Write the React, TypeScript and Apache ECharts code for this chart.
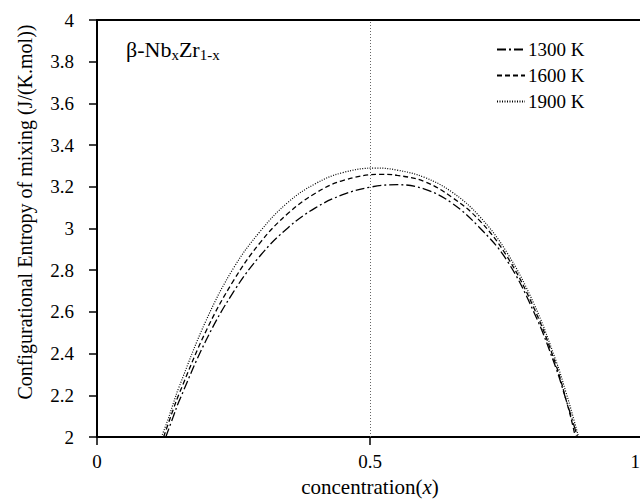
import React, { useEffect, useRef } from "react";
import * as echarts from "echarts";

const xTicks = [0, 0.5, 1];
const yMin = 2;
const yMax = 4;

const s1300x = [0.126, 0.14, 0.15, 0.2, 0.25, 0.3, 0.35, 0.4, 0.45, 0.5, 0.55, 0.6, 0.65, 0.7, 0.75, 0.8, 0.84, 0.86, 0.87, 0.88];
const s1300y = [2.0, 2.1, 2.17, 2.465, 2.696, 2.873, 3.004, 3.099, 3.162, 3.198, 3.21, 3.189, 3.122, 3.006, 2.85, 2.6, 2.335, 2.17, 2.086, 2.0];

const s1600x = [0.122, 0.13, 0.14, 0.15, 0.2, 0.25, 0.3, 0.35, 0.4, 0.45, 0.52, 0.55, 0.6, 0.65, 0.7, 0.75, 0.8, 0.84, 0.86, 0.87, 0.876];
const s1600y = [2.0, 2.06, 2.135, 2.205, 2.51, 2.75, 2.936, 3.073, 3.169, 3.23, 3.26, 3.255, 3.225, 3.15, 3.04, 2.87, 2.62, 2.35, 2.17, 2.07, 2.0];

const s1900x = [0.118, 0.13, 0.14, 0.15, 0.2, 0.25, 0.3, 0.35, 0.4, 0.45, 0.51, 0.55, 0.6, 0.65, 0.7, 0.75, 0.8, 0.84, 0.86, 0.87, 0.882];
const s1900y = [2.0, 2.084, 2.163, 2.238, 2.56, 2.81, 2.99, 3.126, 3.215, 3.268, 3.29, 3.28, 3.245, 3.175, 3.06, 2.888, 2.64, 2.37, 2.205, 2.115, 2.0];

const seriesNames = ["1300 K", "1600 K", "1900 K"];

const zip = (xs: number[], ys: number[]) => xs.map((x, i) => [x, ys[i]]);

const FONT = "Liberation Serif";

export default function App() {
  const ref = useRef<HTMLDivElement>(null);
  useEffect(() => {
    if (!ref.current) return;
    const chart = echarts.init(ref.current, null, { renderer: "svg" });
    const lineBase = { type: "line", showSymbol: false, symbol: "none", smooth: 0.4, silent: true };
    chart.setOption({
      animation: false,
      backgroundColor: "#fff",
      grid: {
        left: 97,
        top: 20,
        width: 546,
        height: 417,
        outerBoundsMode: "none",
        containLabel: false,
        show: true,
        borderColor: "#000",
        borderWidth: 1.8,
        backgroundColor: "transparent",
      },
      legend: {
        orient: "vertical",
        left: 491,
        top: 35,
        itemGap: 7,
        itemWidth: 28,
        itemHeight: 14,
        itemStyle: { opacity: 0, borderWidth: 0 },
        textStyle: { fontFamily: FONT, fontSize: 19, color: "#000", padding: [0, 0, 0, -2] },
        data: seriesNames,
      },
      xAxis: {
        type: "value",
        min: 0,
        max: 1,
        interval: 0.5,
        axisLine: { lineStyle: { color: "#000", width: 2 } },
        axisTick: { show: true, inside: false, length: 8, lineStyle: { color: "#000", width: 1.5 } },
        axisLabel: {
          fontFamily: FONT,
          fontSize: 19,
          color: "#000",
          margin: 15,
          alignMaxLabel: "right",
          formatter: (v: number) => (v === 1 ? "{e|1}" : xTicks.includes(v) ? String(v) : ""),
          rich: { e: { fontFamily: FONT, fontSize: 19, color: "#000", padding: [0, 3, 0, 0] } },
        },
        splitLine: { show: false },
      },
      yAxis: {
        type: "value",
        min: yMin,
        max: yMax,
        interval: 0.2,
        axisLine: { lineStyle: { color: "#000", width: 2 } },
        axisTick: { show: true, inside: false, length: 8, lineStyle: { color: "#000", width: 1.5 } },
        axisLabel: {
          fontFamily: FONT,
          fontSize: 19,
          color: "#000",
          margin: 23,
          formatter: (v: number) => String(Math.round(v * 10) / 10),
        },
        splitLine: { show: false },
      },
      graphic: [
        {
          type: "text",
          left: 126,
          top: 38,
          style: {
            text: "β-Nb{s|x}Zr{s|1-x}",
            fontFamily: FONT,
            fontSize: 22,
            fill: "#000",
            rich: {
              s: { fontFamily: FONT, fontSize: 15, fill: "#000", padding: [12, 0, 0, 0] },
            },
          },
        },
        {
          type: "text",
          x: 25,
          y: 212,
          rotation: Math.PI / 2,
          style: {
            text: "Configurational Entropy of mixing (J/(K.mol))",
            fontFamily: FONT,
            fontSize: 20,
            fill: "#000",
            align: "center",
            verticalAlign: "middle",
          },
        },
        {
          type: "text",
          x: 370,
          y: 487,
          style: {
            text: "concentration({i|x})",
            fontFamily: FONT,
            fontSize: 21,
            fill: "#000",
            align: "center",
            verticalAlign: "middle",
            rich: { i: { fontFamily: FONT, fontSize: 21, fontStyle: "italic", fill: "#000" } },
          },
        },
      ],
      series: [
        {
          ...lineBase,
          name: seriesNames[0],
          data: zip(s1300x, s1300y),
          lineStyle: { color: "#000", width: 1.3, type: [9, 3, 2, 3] },
          itemStyle: { color: "#000" },
          markLine: {
            silent: true,
            symbol: "none",
            label: { show: false },
            lineStyle: { color: "#666", width: 1, type: [1, 2] },
            data: [{ xAxis: 0.5 }],
          },
        },
        {
          ...lineBase,
          name: seriesNames[1],
          data: zip(s1600x, s1600y),
          lineStyle: { color: "#000", width: 1.3, type: [5, 3] },
          itemStyle: { color: "#000" },
        },
        {
          ...lineBase,
          name: seriesNames[2],
          data: zip(s1900x, s1900y),
          lineStyle: { color: "#000", width: 1.2, type: [1, 1.5] },
          itemStyle: { color: "#000" },
        },
      ],
    });
    return () => chart.dispose();
  }, []);
  return <div ref={ref} style={{ width: 640, height: 501, position: "absolute", left: 0, top: 0 }} />;
}
